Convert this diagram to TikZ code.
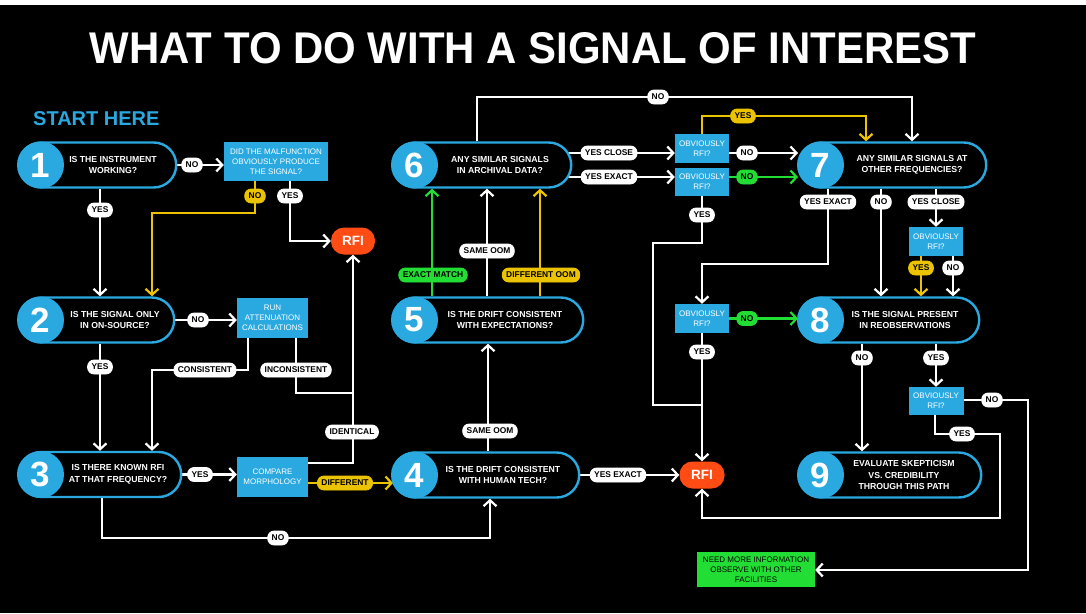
\documentclass[tikz,border=0pt]{standalone}
\usepackage{fontspec}
\usepackage{graphicx}
\setmainfont{Liberation Sans}
\usetikzlibrary{arrows.meta}
\definecolor{sblue}{HTML}{29A9E0}
\definecolor{sorange}{HTML}{FF4B14}
\definecolor{syellow}{HTML}{EBC300}
\definecolor{sgreen}{HTML}{22DD33}
\pgfdeclarelayer{bg}
\pgfdeclarelayer{conn}
\pgfsetlayers{bg,conn,main}
\begin{document}
\begin{tikzpicture}[x=1pt,y=-1pt,
  pill/.style={draw=sblue, line width=2.4pt, fill=black, rounded corners=22.5pt,
    minimum height=45pt, inner sep=0pt, anchor=west},
  numc/.style={circle, fill=sblue, minimum size=47pt, inner sep=0pt, text=white,
    font=\fontsize{35}{35}\selectfont\bfseries},
  ptext/.style={align=center, text=white, inner sep=0pt,
    font=\fontsize{8.7}{11.5}\selectfont\bfseries},
  bbox/.style={fill=sblue, inner sep=0pt, text=white, align=center,
    font=\fontsize{8}{10}\selectfont},
  rfi/.style={fill=sorange, rounded corners=13pt, text=white, inner sep=0pt,
    minimum width=44pt, minimum height=27pt, font=\fontsize{13.5}{14}\selectfont\bfseries},
  gbox/.style={fill=sgreen, inner sep=0pt, text=black, align=center,
    minimum width=118pt, minimum height=35pt, font=\fontsize{8}{10}\selectfont},
  lab/.style={fill=white, draw=white, line width=0.8pt, rounded corners=6.5pt, text=black,
    inner xsep=4pt, inner ysep=0pt, minimum height=14pt,
    font=\fontsize{8.4}{9}\selectfont\bfseries},
  laby/.style={lab, fill=syellow, draw=syellow},
  labg/.style={lab, fill=sgreen, draw=sgreen},
  link/.style={draw=white, line width=2.2pt},
  conn/.style={link, -{Straight Barb[length=6pt,width=13pt]}},
  cy/.style={conn, draw=syellow},
  cg/.style={conn, draw=sgreen}
]
\useasboundingbox (0,0) rectangle (1086,613);
\begin{pgfonlayer}{bg}
\fill[white] (0,0) rectangle (1086,613);
\fill[black] (0,5) rectangle (1086,613);
\end{pgfonlayer}

% title
\node[anchor=base, text=white, inner sep=0pt] (title) at (533,63)
  {\resizebox{886pt}{31pt}{\bfseries WHAT TO DO WITH A SIGNAL OF INTEREST}};
\node[anchor=base west, text=sblue, inner sep=0pt, font=\fontsize{20}{20}\selectfont\bfseries]
  (start) at (33,125) {START HERE};

% pills
\node[pill, minimum width=157pt] (n1) at (18,165) {};
\node[pill, minimum width=155pt] (n2) at (18,320) {};
\node[pill, minimum width=162pt] (n3) at (18,474.5) {};
\node[pill, minimum width=178pt] (n6) at (392,165) {};
\node[pill, minimum width=190pt] (n5) at (392,320) {};
\node[pill, minimum width=186pt] (n4) at (392,475) {};
\node[pill, minimum width=187pt] (n7) at (798,165) {};
\node[pill, minimum width=180pt] (n8) at (798,320) {};
\node[pill, minimum width=182pt] (n9) at (798,475) {};
\node[numc] (c1) at ([xshift=22.5pt]n1.west) {1};
\node[numc] (c2) at ([xshift=22.5pt]n2.west) {2};
\node[numc] (c3) at ([xshift=22.5pt]n3.west) {3};
\node[numc] (c6) at ([xshift=22.5pt]n6.west) {6};
\node[numc] (c5) at ([xshift=22.5pt]n5.west) {5};
\node[numc] (c4) at ([xshift=22.5pt]n4.west) {4};
\node[numc] (c7) at ([xshift=22.5pt]n7.west) {7};
\node[numc] (c8) at ([xshift=22.5pt]n8.west) {8};
\node[numc] (c9) at ([xshift=22.5pt]n9.west) {9};
\node[ptext] (t1) at (113,165) {IS THE INSTRUMENT\\WORKING?};
\node[ptext] (t2) at (115,320) {IS THE SIGNAL ONLY\\IN ON-SOURCE?};
\node[ptext] (t3) at (118,474.5) {IS THERE KNOWN RFI\\AT THAT FREQUENCY?};
\node[ptext] (t6) at (500,165) {ANY SIMILAR SIGNALS\\IN ARCHIVAL DATA?};
\node[ptext] (t5) at (505,320) {IS THE DRIFT CONSISTENT\\WITH EXPECTATIONS?};
\node[ptext] (t4) at (503,475) {IS THE DRIFT CONSISTENT\\WITH HUMAN TECH?};
\node[ptext] (t7) at (912,165) {ANY SIMILAR SIGNALS AT\\OTHER FREQUENCIES?};
\node[ptext] (t8) at (905,320) {IS THE SIGNAL PRESENT\\IN REOBSERVATIONS};
\node[ptext] (t9) at (904,475) {EVALUATE SKEPTICISM\\VS. CREDIBILITY\\THROUGH THIS PATH};

% boxes
\node[bbox, minimum width=104pt, minimum height=39pt] (mal) at (276,161.5) {DID THE MALFUNCTION\\OBVIOUSLY PRODUCE\\THE SIGNAL?};
\node[bbox, minimum width=71pt, minimum height=40pt] (att) at (272.5,318) {RUN\\ATTENUATION\\CALCULATIONS};
\node[bbox, minimum width=71pt, minimum height=40pt] (cmp) at (272.5,477) {COMPARE\\MORPHOLOGY};
\node[bbox, minimum width=54pt, minimum height=29pt] (obA) at (702,148.5) {OBVIOUSLY\\RFI?};
\node[bbox, minimum width=54pt, minimum height=28pt] (obB) at (702,182) {OBVIOUSLY\\RFI?};
\node[bbox, minimum width=54pt, minimum height=29pt] (ob7) at (936,241.5) {OBVIOUSLY\\RFI?};
\node[bbox, minimum width=54pt, minimum height=29pt] (obL) at (702,318.5) {OBVIOUSLY\\RFI?};
\node[bbox, minimum width=55pt, minimum height=28pt] (obR) at (936,401) {OBVIOUSLY\\RFI?};
\node[rfi] (rfiA) at (353,241) {RFI};
\node[rfi, minimum width=45pt] (rfiB) at (702,475) {RFI};
\node[gbox] (need) at (756,569.5) {NEED MORE INFORMATION\\OBSERVE WITH OTHER\\FACILITIES};

% connectors
\begin{pgfonlayer}{conn}
\draw[conn] (n1.east) -- (n1.east -| mal.west);
\draw[conn] (n1.south -| 100,0) -- (n2.north -| 100,0);
\draw[cy] (mal.south -| 255,0) -- (255,213) -- (152,213) -- (n2.north -| 152,0);
\draw[conn] (mal.south -| 290,0) |- (rfiA.west);
\draw[conn] (n2.east) -- (n2.east -| att.west);
\draw[conn] (n2.south -| 100,0) -- (n3.north -| 100,0);
\draw[conn] (att.south -| 248,0) -- (248,370) -- (152,370) -- (n3.north -| 152,0);
\draw[link] (att.south -| 296,0) -- (296,393) -- (rfiA.south |- 0,393);
\draw[conn] (cmp.east |- 0,463) -| (rfiA.south);
\draw[cy] (cmp.east |- 0,483) -- (393,483);
\draw[conn] (n3.east) -- (n3.east -| cmp.west);
\draw[conn] (n3.south -| 102,0) -- (102,538) -- (490,538) -- (n4.south -| 490,0);
\draw[conn] (n4.north -| 488,0) -- (n5.south -| 488,0);
\draw[cg] (n5.north -| 432,0) -- (n6.south -| 432,0);
\draw[conn] (n5.north -| 487,0) -- (n6.south -| 487,0);
\draw[cy] (n5.north -| 540,0) -- (n6.south -| 540,0);
\draw[conn] (n6.center |- 0,153) -- (obA.west |- 0,153);
\draw[conn] (n6.center |- 0,177) -- (obB.west |- 0,177);
\draw[conn] (n6.north -| 477,0) -- (477,97) -- (912,97) -- (n7.north -| 912,0);
\draw[cy] (obA.north) -- (702,116) -- (866,116) -- (n7.north -| 866,0);
\draw[conn] (obA.east |- 0,153) -- (n7.west |- 0,153);
\draw[cg] (obB.east |- 0,177) -- (n7.west |- 0,177);
\draw[link] (obB.south) -- (702,243) -- (653,243) -- (653,405) -- (obL.south |- 0,405);
\draw[conn] (n7.south -| 828,0) -- (828,264) -- (702,264) -- (obL.north);
\draw[conn] (n7.south -| 881,0) -- (n8.north -| 881,0);
\draw[conn] (n7.south -| 936,0) -- (ob7.north);
\draw[cy] (ob7.south -| 921,0) -- (n8.north -| 921,0);
\draw[conn] (ob7.south -| 953,0) -- (n8.north -| 953,0);
\draw[cg] (obL.east) -- (n8.west |- obL.east);
\draw[conn] (obL.south) -- (rfiB.north);
\draw[conn] (n8.south -| 862,0) -- (n9.north -| 862,0);
\draw[conn] (n8.south -| 936,0) -- (obR.north);
\draw[conn] (obR.east |- 0,400) -- (1028,400) -- (1028,570) -- (need.east |- 0,570);
\draw[conn] (obR.south -| 935,0) -- (935,434) -- (1000,434) -- (1000,518) -- (702,518) -- (rfiB.south);
\draw[conn] (n4.east) -- (rfiB.west);
\end{pgfonlayer}

% labels
\node[lab] (l1) at (192,165) {NO};
\node[lab] (l2) at (100,210) {YES};
\node[laby] (l3) at (255,196) {NO};
\node[lab] (l4) at (290,196) {YES};
\node[lab] (l5) at (198,320) {NO};
\node[lab] (l6) at (100,367) {YES};
\node[lab] (l7) at (205,370) {CONSISTENT};
\node[lab] (l8) at (296,370) {INCONSISTENT};
\node[lab] (l9) at (352,432) {IDENTICAL};
\node[laby] (l10) at (345,483) {DIFFERENT};
\node[lab] (l11) at (200,474.5) {YES};
\node[lab] (l12) at (278,538) {NO};
\node[lab] (l13) at (490,431) {SAME OOM};
\node[labg] (l14) at (433,275) {EXACT MATCH};
\node[lab] (l15) at (487,251) {SAME OOM};
\node[laby] (l16) at (541,275) {DIFFERENT OOM};
\node[lab] (l17) at (609,153) {YES CLOSE};
\node[lab] (l18) at (609,177) {YES EXACT};
\node[lab] (l19) at (658,97) {NO};
\node[laby] (l20) at (743,116) {YES};
\node[lab] (l21) at (747,153) {NO};
\node[labg] (l22) at (747,177) {NO};
\node[lab] (l23) at (702,215) {YES};
\node[lab] (l24) at (828,202) {YES EXACT};
\node[lab] (l25) at (881,202) {NO};
\node[lab] (l26) at (936,202) {YES CLOSE};
\node[laby] (l27) at (921,268) {YES};
\node[lab] (l28) at (953,268) {NO};
\node[labg] (l29) at (747,318.5) {NO};
\node[lab] (l30) at (702,352) {YES};
\node[lab] (l31) at (862,358) {NO};
\node[lab] (l32) at (936,358) {YES};
\node[lab] (l33) at (992,400) {NO};
\node[lab] (l34) at (962,434) {YES};
\node[lab] (l35) at (618,475) {YES EXACT};
\end{tikzpicture}
\end{document}
